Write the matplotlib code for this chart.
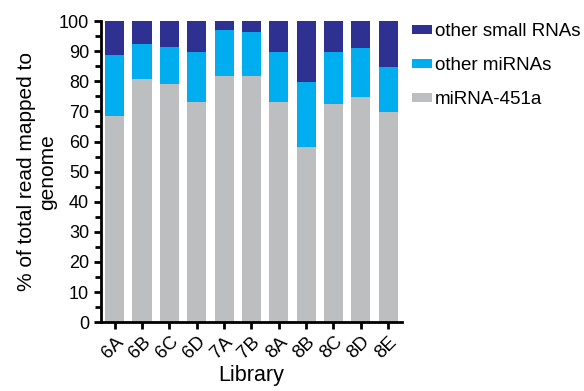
import matplotlib.pyplot as plt
import numpy as np

plt.rcParams['font.family'] = ['Liberation Sans', 'DejaVu Sans']

libraries = ['6A', '6B', '6C', '6D', '7A', '7B', '8A', '8B', '8C', '8D', '8E']
mir451a = [68.4, 80.7, 79.1, 73.1, 81.7, 81.7, 73.1, 58.2, 72.4, 74.7, 69.8]
other_mirnas = [20.3, 11.7, 12.3, 16.6, 15.3, 14.6, 16.6, 21.5, 17.3, 16.3, 14.9]
other_small = [100 - a - b for a, b in zip(mir451a, other_mirnas)]

c_gray = '#BCBEC0'
c_light = '#00AEEF'
c_dark = '#2E3192'

fig = plt.figure(figsize=(5.84, 3.91), dpi=100)
ax = fig.add_axes([0.173, 0.176, 0.515, 0.77])

x = np.arange(len(libraries))
w = 0.7
b1 = ax.bar(x, mir451a, w, color=c_gray, label='miRNA-451a')
b2 = ax.bar(x, other_mirnas, w, bottom=mir451a, color=c_light, label='other miRNAs')
bottom3 = [a + b for a, b in zip(mir451a, other_mirnas)]
b3 = ax.bar(x, other_small, w, bottom=bottom3, color=c_dark, label='other small RNAs')

ax.set_xlim(-0.5, 10.5)
ax.set_ylim(0, 100)
ax.set_yticks(range(0, 101, 10))
ax.set_yticks(range(5, 100, 10), minor=True)
ax.set_xticks(x)
ax.set_xticklabels(libraries, rotation=45, ha='right', rotation_mode='anchor')
ax.tick_params(axis='y', which='major', labelsize=13, width=2, length=5, color='black')
ax.tick_params(axis='x', which='major', labelsize=13.5, width=2, length=5, color='black', pad=3)
ax.tick_params(axis='y', which='minor', width=2, length=4)

for s in ['top', 'right']:
    ax.spines[s].set_visible(False)
for s in ['left', 'bottom']:
    ax.spines[s].set_linewidth(2)

ax.set_xlabel('Library', fontsize=15.5, labelpad=2)
ax.set_ylabel('% of total read mapped to\ngenome', fontsize=15, labelpad=1)

fig.legend([b3, b2, b1], ['other small RNAs', 'other miRNAs', 'miRNA-451a'],
           loc='upper left', bbox_to_anchor=(0.692, 0.96), frameon=False,
           fontsize=13.5, handlelength=1.1, handleheight=0.35, handletextpad=0.15,
           labelspacing=0.9, borderaxespad=0)

fig.savefig('out.png', dpi=100)
